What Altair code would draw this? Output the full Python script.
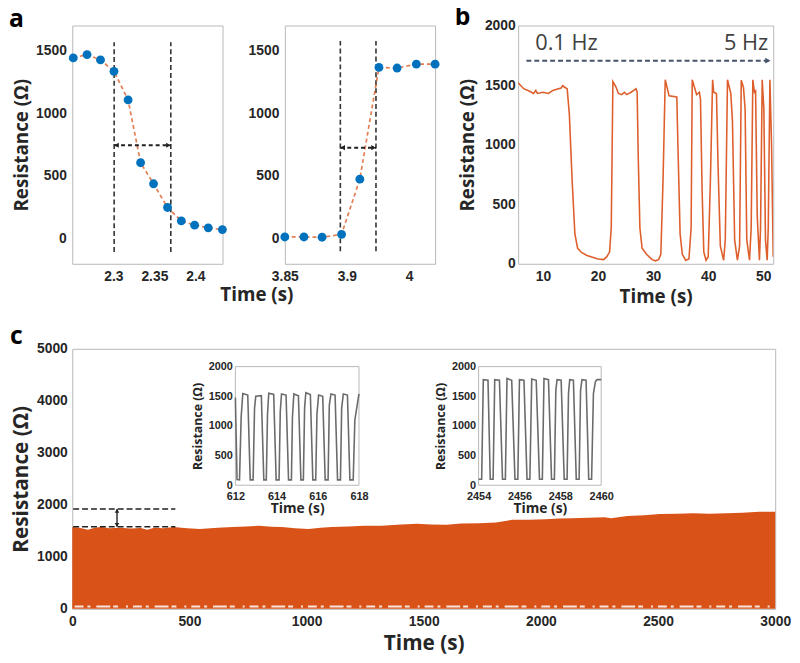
import altair as alt
import pandas as pd

# ---------------- panel a, left: falling edge ----------------
a1_time = [2.2512, 2.2680, 2.2844, 2.3008, 2.3180, 2.3332, 2.3490, 2.3660, 2.3828, 2.3990, 2.4156, 2.4328]
a1_res = [1442, 1468, 1426, 1335, 1107, 606, 438, 249, 142, 108, 87, 73]
a1_guides = [2.301, 2.370]
a1_guide_span = [-105, 1566]
a1_arrow_level = 745
a1_xticks = [2.3, 2.35, 2.4]
a1_xdomain = [2.25, 2.433]

# ---------------- panel a, right: rising edge ----------------
a2_time = [3.8500, 3.8654, 3.8800, 3.8957, 3.9104, 3.9258, 3.9404, 3.9559, 3.9710]
a2_res = [14, 14, 12, 35, 475, 1366, 1361, 1392, 1392]
a2_guides = [3.8947, 3.9234]
a2_guide_span = [-100, 1576]
a2_arrow_level = 726
a2_xticks = [3.85, 3.9, 3.95]
a2_xlabels = ["3.85", "3.9", "4"]
a2_xdomain = [3.85, 3.971]

a_ydomain = [-200, 1700]
a_yticks = [0, 500, 1000, 1500]

# ---------------- panel b: frequency sweep ----------------
b_time = [5.5, 6.5, 7.5, 8.3, 8.7, 9.0, 10.0, 11.0, 11.8, 12.5, 13.3, 13.6, 14.0, 14.4, 14.8, 15.3,
          15.8, 16.3, 17.0, 18.0, 19.0, 20.0, 21.0, 21.6, 22.1, 22.4, 22.7, 23.2, 23.7, 24.3, 24.8,
          25.2, 26.0, 26.9, 27.1, 27.3, 27.6, 28.0, 28.8, 29.8, 30.4, 31.0, 31.4, 31.8, 32.2, 32.9,
          34.3, 34.5, 34.9, 35.3, 35.9, 36.5, 36.9, 37.1, 37.9, 38.4, 38.6, 38.9, 39.2, 39.6, 40.0,
          40.4, 40.8, 41.0, 41.5, 41.8, 42.2, 42.8, 43.1, 43.5, 44.1, 44.4, 44.8, 45.3, 45.7, 46.0,
          46.4, 46.7, 47.0, 47.5, 47.8, 48.1, 48.4, 48.6, 48.9, 49.3, 49.5, 49.8, 50.1, 50.4, 50.7,
          50.9, 51.2, 51.5, 51.8]
b_res = [1520, 1470, 1450, 1430, 1455, 1430, 1440, 1430, 1455, 1465, 1475, 1495, 1480, 1470, 1250, 700,
         250, 130, 95, 70, 55, 40, 35, 60, 100, 300, 1530, 1490, 1430, 1420, 1440,
         1420, 1440, 1470, 1440, 900, 300, 130, 80, 35, 25, 35, 80, 700, 1545, 1410,
         1400, 1000, 250, 80, 30, 40, 300, 1545, 1420, 1440, 1380, 600, 100, 30, 60,
         700, 1545, 1440, 1430, 800, 150, 30, 200, 1545, 1430, 1200, 200, 30, 150, 1540,
         1480, 1300, 200, 30, 300, 1545, 1440, 1450, 400, 30, 300, 1545, 1300, 200, 30,
         300, 1545, 1000, 60]
b_xdomain = [5.5, 51.8]
b_ydomain = [0, 2000]
b_xticks = [10, 20, 30, 40, 50]
b_yticks = [0, 500, 1000, 1500, 2000]
b_arrow_time = [7.0, 51.3]
b_arrow_level = 1705
b_left_label = "0.1 Hz"
b_right_label = "5 Hz"
b_label_time = [8.6, 50.9]
b_label_level = 1795

# ---------------- panel c: long-term cycling ----------------
c_time = [0, 30, 67, 95, 123, 160, 200, 250, 292, 320, 350, 390, 433, 490, 545, 620, 685, 740, 797, 850,
          895, 950, 1008, 1060, 1106, 1180, 1246, 1320, 1386, 1470, 1530, 1598, 1660, 1737, 1808, 1878,
          1950, 2019, 2080, 2131, 2200, 2272, 2300, 2369, 2440, 2509, 2580, 2651, 2720, 2791, 2860,
          2932, 3000]
c_top = [1572, 1560, 1521, 1560, 1572, 1550, 1560, 1545, 1553, 1521, 1560, 1550, 1572, 1550, 1534, 1560,
         1572, 1585, 1597, 1580, 1572, 1550, 1534, 1560, 1572, 1585, 1597, 1600, 1616, 1635, 1620, 1616,
         1640, 1648, 1660, 1711, 1715, 1724, 1735, 1743, 1750, 1762, 1740, 1787, 1800, 1825, 1830,
         1838, 1830, 1838, 1850, 1869, 1869]
c_floor_time = [10, 2990]      # row of visible minima just above the baseline
c_floor_level = 45
c_xdomain = [0, 3000]
c_ydomain = [0, 5000]
c_xticks = [0, 500, 1000, 1500, 2000, 2500, 3000]
c_yticks = [0, 1000, 2000, 3000, 4000, 5000]
c_guide_levels = [1578, 1920]
c_guide_time = [4, 440]
c_arrow_time = 191

# insets
ins1_time = [612.00, 612.08, 612.20, 612.28, 612.36, 612.60, 612.72, 612.86, 612.93, 612.99, 613.26,
             613.38, 613.50, 613.56, 613.62, 613.86, 613.98, 614.12, 614.18, 614.24, 614.46, 614.58,
             614.72, 614.77, 614.84, 615.06, 615.18, 615.30, 615.36, 615.42, 615.64, 615.76, 615.90,
             615.96, 616.04, 616.24, 616.36, 616.50, 616.56, 616.64, 616.84, 616.96, 617.10, 617.16,
             617.24, 617.44, 617.56, 617.72, 617.80, 618.00]
ins1_res = [1480, 95, 90, 1150, 1545, 1520, 90, 90, 1300, 1500, 1510,
            90, 90, 1200, 1550, 1530, 90, 90, 1250, 1540, 1520, 90,
            90, 1150, 1540, 1510, 90, 90, 1300, 1560, 1530, 90, 90,
            1200, 1520, 1500, 90, 90, 1350, 1540, 1520, 90, 90, 1300,
            1540, 1520, 90, 90, 1100, 1540]
ins1_xdomain = [612, 618]
ins1_xticks = [612, 614, 616, 618]

ins2_time = [2454.00, 2454.15, 2454.23, 2454.46, 2454.57, 2454.71, 2454.79, 2455.02, 2455.17,
             2455.31, 2455.39, 2455.62, 2455.78, 2455.92, 2456.00, 2456.22, 2456.37, 2456.51,
             2456.60, 2456.82, 2456.98, 2457.12, 2457.20, 2457.42, 2457.57, 2457.71, 2457.78,
             2457.84, 2458.04, 2458.19, 2458.33, 2458.40, 2458.46, 2458.64, 2458.78, 2458.92,
             2458.99, 2459.06, 2459.26, 2459.39, 2459.53, 2459.62, 2459.72, 2459.80, 2460.00]
ins2_res = [100, 100, 1780, 1770, 100, 100, 1780, 1770, 100,
            100, 1800, 1770, 100, 100, 1780, 1770, 100, 100,
            1790, 1770, 100, 100, 1800, 1780, 100, 100, 1600,
            1780, 1770, 100, 100, 1550, 1780, 1770, 100, 100,
            1600, 1780, 1770, 100, 100, 1550, 1750, 1780, 1780]
ins2_xdomain = [2454, 2460]
ins2_xticks = [2454, 2456, 2458, 2460]
ins_ydomain = [0, 2000]
ins_yticks = [0, 500, 1000, 1500, 2000]

# ---------------- styling ----------------
TICK_FONT = "Liberation Sans"
TITLE_FONT = "Open Sans"
INK = "#262626"
FRAME = "#b8b8b8"
BLUE = "#0072BD"
ORANGE = "#D95319"
LINE_ORANGE = "#DE5F2C"
SLATE = "#44546A"
Y_TITLE = "Resistance (Ω)"
X_TITLE = "Time (s)"

A_W, A_H = 152, 241
B_W = 258
C_W, C_H = 711, 263
INS1_X = [165, 290]
INS2_X = [411, 535]
INS_Y = [138, 18]

TIP_LEFT = "M0,0 L1,-0.55 L1,0.55 Z"
TIP_RIGHT = "M0,0 L-1,-0.55 L-1,0.55 Z"
TIP_UP = "M0,0 L-0.6,1 L0.6,1 Z"
TIP_DOWN = "M0,0 L-0.6,-1 L0.6,-1 Z"


def axis(values, title=None, label_size=14, title_size=19, **kw):
    opts = dict(values=values, grid=False, ticks=False, domain=False,
                labelFont=TICK_FONT, labelFontSize=label_size, labelFontWeight="bold",
                labelColor=INK, labelFlush=False, labelPadding=6,
                titleFont=TITLE_FONT, titleFontSize=title_size, titleFontWeight="bold",
                titleColor=INK, titlePadding=4)
    opts.update(kw)
    return alt.Axis(title=title, **opts)


def panel_title(letter, dx, offset):
    return alt.TitleParams(letter, anchor="start", frame="group", dx=dx, offset=offset,
                           font=TITLE_FONT, fontSize=25, fontWeight="bold", color="black")


def edge_panel(times, res, guides, span, level, xdomain, xticks, xaxis_kw, yaxis_title):
    xs = alt.Scale(domain=xdomain, nice=False, zero=False)
    ys = alt.Scale(domain=a_ydomain, nice=False, zero=False)
    pts = pd.DataFrame({"t": times, "r": res})
    gd = pd.DataFrame({"t": guides, "lo": [span[0]] * 2, "hi": [span[1]] * 2})
    arr = pd.DataFrame({"t0": [guides[0]], "t1": [guides[1]], "y": [level]})
    xax = axis(xticks, **xaxis_kw)
    yax = axis(a_yticks, title=yaxis_title, format="d")

    def X(f):
        return alt.X(f, scale=xs, axis=xax)

    def Y(f):
        return alt.Y(f, scale=ys, axis=yax)

    vl = alt.Chart(gd).mark_rule(color="#333333", strokeDash=[5, 3], strokeWidth=1.6).encode(
        x=X("t:Q"), y=Y("lo:Q"), y2="hi:Q")
    line = alt.Chart(pts).mark_line(color=ORANGE, strokeDash=[4, 3], strokeWidth=1.7, opacity=0.75).encode(
        x=X("t:Q"), y=Y("r:Q"))
    dots = alt.Chart(pts).mark_point(shape="circle", filled=True, size=80, color=BLUE, opacity=1).encode(
        x=X("t:Q"), y=Y("r:Q"))
    hr = alt.Chart(arr).mark_rule(color="#222222", strokeDash=[4, 3], strokeWidth=2).encode(
        x=X("t0:Q"), x2="t1:Q", y=Y("y:Q"))
    hl = alt.Chart(arr).mark_point(shape=TIP_LEFT, filled=True, size=90, color="#222222", opacity=1).encode(
        x=X("t0:Q"), y=Y("y:Q"))
    hrt = alt.Chart(arr).mark_point(shape=TIP_RIGHT, filled=True, size=90, color="#222222", opacity=1).encode(
        x=X("t1:Q"), y=Y("y:Q"))
    return alt.layer(vl, line, dots, hr, hl, hrt).properties(width=A_W, height=A_H)


a2_label_expr = "[" + ",".join("'%s'" % s for s in a2_xlabels) + "][indexof([" + \
    ",".join(str(v) for v in a2_xticks) + "], datum.value)]"

a1 = edge_panel(a1_time, a1_res, a1_guides, a1_guide_span, a1_arrow_level, a1_xdomain, a1_xticks,
                dict(format="~g"), Y_TITLE).properties(title=panel_title("a", -64, -6))
a2 = edge_panel(a2_time, a2_res, a2_guides, a2_guide_span, a2_arrow_level, a2_xdomain, a2_xticks,
                dict(labelExpr=a2_label_expr), None)

# ---------------- panel b ----------------
bxs = alt.Scale(domain=b_xdomain, nice=False, zero=False)
bys = alt.Scale(domain=b_ydomain, nice=False, zero=False)
bxax = axis(b_xticks, title=X_TITLE, format="d", titleX=B_W / 2 + 10)
byax = axis(b_yticks, title=Y_TITLE, format="d", labelPadding=3, titlePadding=7)


def BX(f):
    return alt.X(f, scale=bxs, axis=bxax)


def BY(f):
    return alt.Y(f, scale=bys, axis=byax)


bdf = pd.DataFrame({"t": b_time, "r": b_res})
b_line = alt.Chart(bdf).mark_line(color=LINE_ORANGE, strokeWidth=1.6, clip=True).encode(
    x=BX("t:Q"), y=BY("r:Q"))
barr = pd.DataFrame({"t0": [b_arrow_time[0]], "t1": [b_arrow_time[1]], "y": [b_arrow_level]})
b_rule = alt.Chart(barr).mark_rule(color=SLATE, strokeDash=[5, 3], strokeWidth=2).encode(
    x=BX("t0:Q"), x2="t1:Q", y=BY("y:Q"))
b_head = alt.Chart(barr).mark_point(shape=TIP_RIGHT, filled=True, size=110, color=SLATE, opacity=1).encode(
    x=BX("t1:Q"), y=BY("y:Q"))
blab = pd.DataFrame({"t": b_label_time, "y": [b_label_level] * 2, "s": [b_left_label, b_right_label]})
b_txt_l = alt.Chart(blab.iloc[[0]]).mark_text(align="left", baseline="alphabetic", font=TITLE_FONT,
                                              fontSize=22, color="#404040").encode(
    x=BX("t:Q"), y=BY("y:Q"), text="s:N")
b_txt_r = alt.Chart(blab.iloc[[1]]).mark_text(align="right", baseline="alphabetic", font=TITLE_FONT,
                                              fontSize=22, color="#404040").encode(
    x=BX("t:Q"), y=BY("y:Q"), text="s:N")
b = alt.layer(b_line, b_rule, b_head, b_txt_l, b_txt_r).properties(
    width=B_W, height=A_H, title=panel_title("b", -64, -11))

# ---------------- panel c ----------------
cxs = alt.Scale(domain=c_xdomain, nice=False, zero=False)
cys = alt.Scale(domain=c_ydomain, nice=False, zero=False)
cdf = pd.DataFrame({"t": c_time, "r": c_top})
c_area = alt.Chart(cdf).mark_area(color=ORANGE, opacity=1).encode(
    x=alt.X("t:Q", scale=cxs, axis=axis(c_xticks, title=X_TITLE, title_size=21, format="d")),
    y=alt.Y("r:Q", scale=cys, axis=axis(c_yticks, title=Y_TITLE, title_size=21, format="d",
                                         labelPadding=5, titlePadding=5)),
)
fdf = pd.DataFrame({"t0": [c_floor_time[0]], "t1": [c_floor_time[1]], "y": [c_floor_level]})
c_floor = alt.Chart(fdf).mark_rule(color="white", strokeWidth=2, opacity=0.85,
                                   strokeDash=[9, 4, 3, 6, 14, 3, 5, 8, 2, 5]).encode(
    x=alt.X("t0:Q", scale=cxs, axis=None), x2="t1:Q", y=alt.Y("y:Q", scale=cys, axis=None))
gdf = pd.DataFrame({"t0": [c_guide_time[0]] * 2, "t1": [c_guide_time[1]] * 2, "y": c_guide_levels})
c_guides = alt.Chart(gdf).mark_rule(color="#222222", strokeDash=[6, 3], strokeWidth=1.6).encode(
    x=alt.X("t0:Q", scale=cxs, axis=None), x2="t1:Q", y=alt.Y("y:Q", scale=cys, axis=None))
adf = pd.DataFrame({"t": [c_arrow_time], "lo": [c_guide_levels[0]], "hi": [c_guide_levels[1]]})
c_arrow = alt.Chart(adf).mark_rule(color="#222222", strokeWidth=1.4).encode(
    x=alt.X("t:Q", scale=cxs, axis=None), y=alt.Y("lo:Q", scale=cys, axis=None), y2="hi:Q")
c_up = alt.Chart(adf).mark_point(shape=TIP_UP, filled=True, size=60, color="#222222", opacity=1).encode(
    x=alt.X("t:Q", scale=cxs, axis=None), y=alt.Y("hi:Q", scale=cys, axis=None))
c_dn = alt.Chart(adf).mark_point(shape=TIP_DOWN, filled=True, size=60, color="#222222", opacity=1).encode(
    x=alt.X("t:Q", scale=cxs, axis=None), y=alt.Y("lo:Q", scale=cys, axis=None))


def inset(times, res, xdomain, xticks, xrange):
    xs = alt.Scale(domain=xdomain, range=xrange, nice=False, zero=False)
    ys = alt.Scale(domain=ins_ydomain, range=INS_Y, nice=False, zero=False)
    frame = pd.DataFrame({"x0": [xdomain[0]], "x1": [xdomain[1]], "y0": [ins_ydomain[0]], "y1": [ins_ydomain[1]]})
    box = alt.Chart(frame).mark_rect(fill="white", stroke=FRAME, strokeWidth=1).encode(
        x=alt.X("x0:Q", scale=xs, axis=None), x2="x1:Q",
        y=alt.Y("y0:Q", scale=ys, axis=None), y2="y1:Q")
    df = pd.DataFrame({"t": times, "r": res})
    ln = alt.Chart(df).mark_line(color="#6b6b6b", strokeWidth=1.6).encode(
        x=alt.X("t:Q", scale=xs,
                axis=axis(xticks, title=X_TITLE, label_size=11, title_size=14, orient="bottom", format="d",
                          offset=-(C_H - INS_Y[0]), labelPadding=5, titlePadding=1)),
        y=alt.Y("r:Q", scale=ys,
                axis=axis(ins_yticks, title=Y_TITLE, label_size=11, title_size=12.5, orient="left", format="d",
                          offset=-xrange[0], labelPadding=3, titlePadding=4)),
    )
    return [box, ln]


c_layers = [c_area, c_floor, c_guides, c_arrow, c_up, c_dn] + \
    inset(ins1_time, ins1_res, ins1_xdomain, ins1_xticks, INS1_X) + \
    inset(ins2_time, ins2_res, ins2_xdomain, ins2_xticks, INS2_X)
c = alt.layer(*c_layers).resolve_scale(x="independent", y="independent").properties(
    width=C_W, height=C_H, title=panel_title("c", -63, -7))

pair = alt.hconcat(a1, a2, spacing=20).properties(
    title=alt.TitleParams(X_TITLE, orient="bottom", anchor="middle", offset=2, dx=33,
                          font=TITLE_FONT, fontSize=19, fontWeight="bold", color=INK))
top = alt.hconcat(pair, b, spacing=14)
chart = alt.vconcat(top, c, spacing=16).properties(
    padding={"top": -8, "left": 0, "right": 0, "bottom": 0}).configure_view(stroke=FRAME, strokeWidth=1)

chart.save("out.html", embed_options={"renderer": "svg", "actions": False})
